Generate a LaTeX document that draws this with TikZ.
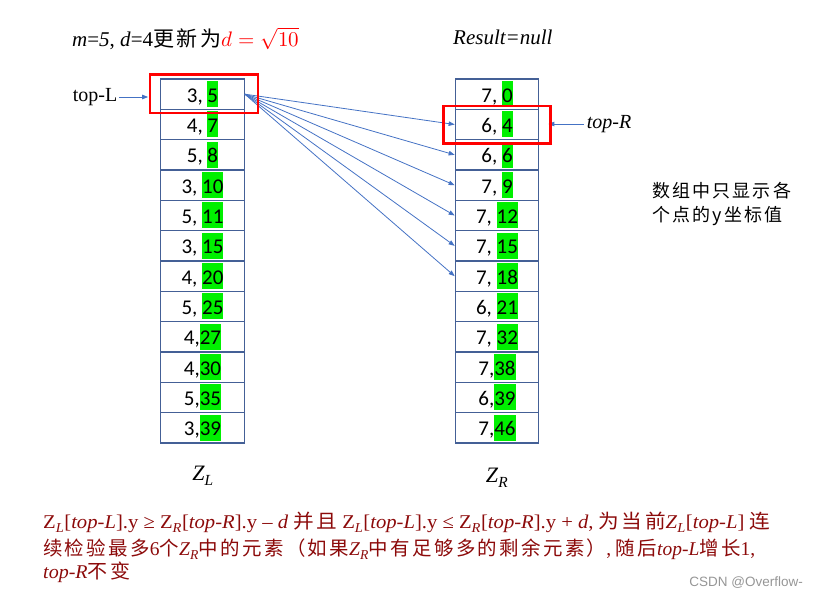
\documentclass[tikz,border=0pt]{standalone}
\usepackage{fontspec}
\usepackage{unicode-math}
\setmainfont{Liberation Serif}
\setmathfont{Latin Modern Math}
\newfontfamily\calib{Carlito}
\newfontfamily\cjk{Noto Sans CJK SC}
\newfontfamily\cjkls[LetterSpace=12]{Noto Sans CJK SC}
\newfontfamily\wmfont{Liberation Sans}
\usetikzlibrary{arrows.meta,calc}
\definecolor{cellblue}{RGB}{68,96,150}
\definecolor{arrblue}{RGB}{68,114,196}
\definecolor{hlgreen}{RGB}{0,240,0}
\definecolor{darkred}{RGB}{140,10,10}
\definecolor{wmgray}{RGB}{150,150,150}
\newcommand\hly[1]{{\setlength\fboxsep{0pt}\colorbox{hlgreen}{\rule[-5pt]{0pt}{26pt}#1}}}
\newcommand\zsub[2]{#1\textsubscript{\textit{#2}}}
\begin{document}
\begin{tikzpicture}[x=1pt,y=-1pt,
  cellbox/.style={draw=cellblue, line width=1.2pt, minimum width=83.5pt, minimum height=30.33pt,
    inner sep=0pt, font=\calib\fontsize{21}{25}\selectfont},
  arr/.style={draw=arrblue, line width=0.8pt, -{Triangle[length=6pt,width=4.5pt]}},
  redbox/.style={draw=red, line width=2.5pt}]
\useasboundingbox (0,0) rectangle (819,597);
% left column
\foreach \txt [count=\i] in {{3, \hly{5}},{4, \hly{7}},{5, \hly{8}},{3, \hly{10}},{5, \hly{11}},{3, \hly{15}},{4, \hly{20}},{5, \hly{25}},{4,\hly{27}},{4,\hly{30}},{5,\hly{35}},{3,\hly{39}}}
  \node[cellbox] (L\i) at (202.5,{79+30.33*(\i-0.5)}) {\txt};
% right column
\foreach \txt [count=\i] in {{7, \hly{0}},{6, \hly{4}},{6, \hly{6}},{7, \hly{9}},{7, \hly{12}},{7, \hly{15}},{7, \hly{18}},{6, \hly{21}},{7, \hly{32}},{7,\hly{38}},{6,\hly{39}},{7,\hly{46}}}
  \node[cellbox] (R\i) at (497,{79+30.33*(\i-0.5)}) {\txt};
% fan of arrows
\foreach \j in {2,...,7}
  \draw[arr] (L1.east) -- (R\j.west);
% pointers
\node[inner sep=2pt, font=\fontsize{20}{24}\selectfont] (topL) at (95,97) {top-L};
\draw[arr] (topL.east) -- (topL.east -| L1.west) [shorten >=12pt];
\node[inner sep=3pt, font=\itshape\fontsize{20}{24}\selectfont] (topR) at (609,124) {top-R};
\draw[arr] (topR.west) -- (topR.west -| R2.east) [shorten >=9pt];
% red boxes
\draw[redbox] ($(L1.north west)+(-10,-4)$) rectangle ($(L1.south east)+(13,3)$);
\draw[redbox] ($(R2.north west)+(-11,-2.5)$) rectangle ($(R2.south east)+(11,3)$);
% titles
\node[anchor=base west, inner sep=0pt] (title) at (72,46.7)
  {\fontsize{21}{25}\selectfont\textit{m}=\textit{5}, \textit{d}=4{\cjkls 更新为}\textcolor{red}{\fontsize{21}{25}\selectfont$d=\sqrt{10}$}};
\node[anchor=base west, inner sep=0pt] (result) at (453,44.5)
  {\fontsize{21}{25}\selectfont\textit{Result=null}};
% note
\node[anchor=north west, align=left, inner sep=0pt, font=\cjkls\fontsize{18}{24}\selectfont] (note) at (652,182)
  {数组中只显示各\\个点的y坐标值};
% column labels
\node (ZL) at (203,476) {\fontsize{22}{26}\selectfont\zsub{\textit{Z}}{L}};
\node (ZR) at (497,478) {\fontsize{22}{26}\selectfont\zsub{\textit{Z}}{R}};
% bottom text
\node[anchor=base west, inner sep=0pt, text=darkred, font=\fontsize{19.5}{24}\selectfont] (b1) at (43,528)
  {\resizebox{727pt}{\height}{\zsub{Z}{L}[\textit{top-L}].y ≥ \zsub{Z}{R}[\textit{top-R}].y – \textit{d} {\cjkls 并且} \zsub{Z}{L}[\textit{top-L}].y ≤ \zsub{Z}{R}[\textit{top-R}].y + \textit{d}, {\cjkls 为当前}\zsub{\textit{Z}}{L}[\textit{top-L}] {\cjkls 连}}};
\node[anchor=base west, inner sep=0pt, text=darkred, font=\fontsize{19.5}{24}\selectfont] (b2) at (43,555)
  {\resizebox{712pt}{\height}{{\cjkls 续检验最多}6{\cjkls 个}\zsub{\textit{Z}}{R}{\cjkls 中的元素（如果}\zsub{\textit{Z}}{R}{\cjkls 中有足够多的剩余元素）}, {\cjkls 随后}\textit{top-L}{\cjkls 增长}1,}};
\node[anchor=base west, inner sep=0pt, text=darkred, font=\fontsize{19.5}{24}\selectfont] (b3) at (43,578)
  {\resizebox{87pt}{\height}{\textit{top-R}{\cjkls 不变}}};
% watermark
\node[anchor=base east, inner sep=0pt, text=wmgray, font=\wmfont\fontsize{13.5}{16}\selectfont] (wm) at (803,586) {CSDN @Overflow-};
\end{tikzpicture}
\end{document}
